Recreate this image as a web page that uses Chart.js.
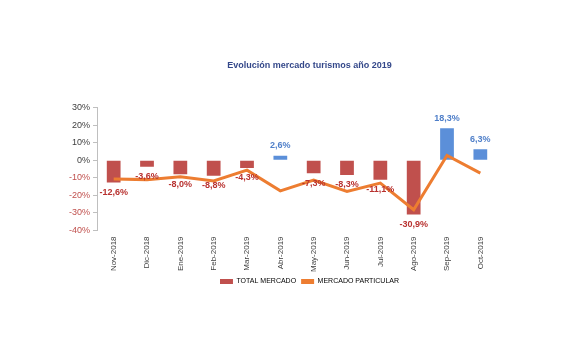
<!DOCTYPE html>
<html>
<head>
<meta charset="utf-8">
<script src="https://cdn.jsdelivr.net/npm/chart.js@4"></script>
<style>
  html, body { margin: 0; padding: 0; background: #ffffff; }
  #wrap { width: 588px; height: 353px; }
</style>
</head>
<body>
<div id="wrap"><canvas id="mercado" width="588" height="353"></canvas></div>
<script>
const months = ['Nov-2018', 'Dic-2018', 'Ene-2019', 'Feb-2019', 'Mar-2019', 'Abr-2019', 'May-2019', 'Jun-2019', 'Jul-2019', 'Ago-2019', 'Sep-2019', 'Oct-2019'];
const totalMercado = [-12.6, -3.6, -8.0, -8.8, -4.3, 2.6, -7.3, -8.3, -11.1, -30.9, 18.3, 6.3];
const mercadoParticular = [-10.6, -11.0, -9.4, -11.8, -5.6, -17.4, -11.3, -17.8, -13.0, -28.2, 2.8, -7.3];

const RED = '#C0504D';
const BLUE = '#5B8FD9';
const ORANGE = '#ED7D31';
const FONT = '"Liberation Sans", Arial, sans-serif';

function pct(v) {
    return v.toFixed(1).replace('.', ',') + '%';
}

// etiquetas al final de cada barra, como en Excel
const barLabels = {
    id: 'barLabels',
    afterDatasetsDraw(chart) {
        const ctx = chart.ctx;
        const meta = chart.getDatasetMeta(1);
        ctx.save();
        ctx.font = 'bold 9px ' + FONT;
        ctx.textAlign = 'center';
        ctx.textBaseline = 'middle';
        meta.data.forEach(function (bar, i) {
            const v = totalMercado[i];
            ctx.fillStyle = v < 0 ? '#B8312F' : '#4F7FC9';
            const y = v < 0 ? bar.y + 10 : bar.y - 10;
            ctx.fillText(pct(v), bar.x, y);
        });
        ctx.restore();
    }
};

// titulo y leyenda algo desplazados, como en el original
const shiftBoxes = {
    id: 'shiftBoxes',
    afterLayout(chart) {
        [chart.titleBlock, chart.legend].forEach(function (box) {
            if (!box) return;
            box.left += 28;
            box.right += 28;
        });
        if (chart.legend) {
            chart.legend.top -= 5;
            chart.legend.bottom -= 5;
        }
    }
};

document.addEventListener('DOMContentLoaded', function () {
    const ctx = document.getElementById('mercado').getContext('2d');
    const data = {
        labels: months,
        datasets: [
            {
                type: 'line',
                label: 'MERCADO PARTICULAR',
                data: mercadoParticular,
                borderColor: ORANGE,
                backgroundColor: ORANGE,
                borderWidth: 3,
                pointRadius: 0,
                tension: 0,
                order: 1
            },
            {
                type: 'bar',
                label: 'TOTAL MERCADO',
                data: totalMercado,
                backgroundColor: totalMercado.map(v => v < 0 ? RED : BLUE),
                barPercentage: 0.75,
                categoryPercentage: 0.55,
                order: 2
            }
        ]
    };

    const options = {
        responsive: false,
        animation: false,
        layout: {
            padding: { left: 66, right: 91, top: 60, bottom: 53 }
        },
        plugins: {
            title: {
                display: true,
                text: 'Evolución mercado turismos año 2019',
                color: '#34488A',
                font: { family: FONT, size: 9, weight: 'bold' },
                padding: { top: 0, bottom: 37 }
            },
            legend: {
                position: 'bottom',
                reverse: true,
                labels: {
                    boxWidth: 13,
                    boxHeight: 5,
                    color: '#404040',
                    padding: 5,
                    font: { family: FONT, size: 7 },
                    generateLabels: function (chart) {
                        return chart.data.datasets.map(function (ds, i) {
                            const isBar = ds.type === 'bar';
                            return {
                                text: ds.label,
                                fillStyle: isBar ? RED : ORANGE,
                                strokeStyle: isBar ? RED : ORANGE,
                                lineWidth: 0,
                                datasetIndex: i
                            };
                        });
                    }
                }
            },
            tooltip: { enabled: false }
        },
        scales: {
            x: {
                grid: { display: false, drawTicks: false },
                border: { display: false },
                ticks: {
                    minRotation: 90,
                    maxRotation: 90,
                    color: '#404040',
                    padding: 6,
                    font: { family: FONT, size: 8 }
                }
            },
            y: {
                min: -40,
                max: 30,
                grid: { drawOnChartArea: false, tickLength: 4, color: '#BFBFBF' },
                border: { display: true, color: '#BFBFBF' },
                ticks: {
                    stepSize: 10,
                    padding: 3,
                    font: { family: FONT, size: 9 },
                    color: function (c) {
                        return c.tick.value < 0 ? RED : '#404040';
                    },
                    callback: function (value) {
                        return value + '%';
                    }
                }
            }
        }
    };

    new Chart(ctx, {
        data: data,
        options: options,
        plugins: [barLabels, shiftBoxes]
    });
});
</script>
</body>
</html>
